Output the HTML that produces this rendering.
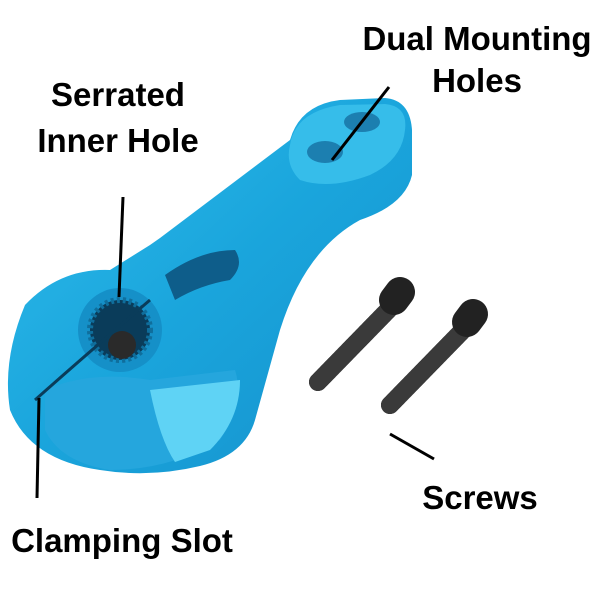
<!DOCTYPE html>
<html><head><style>
html,body{margin:0;padding:0;background:#fff;width:600px;height:600px;overflow:hidden}
svg{display:block}
text{font-family:"Liberation Sans",sans-serif;font-weight:bold;font-size:33px;fill:#000;text-anchor:middle}
</style></head><body>
<svg width="600" height="600" viewBox="0 0 600 600">
<defs>
<linearGradient id="g" x1="0" y1="0" x2="1" y2="1">
<stop offset="0" stop-color="#30bdec"/><stop offset="0.5" stop-color="#1aa5dc"/><stop offset="1" stop-color="#1590cc"/>
</linearGradient>
</defs>
<path d="M150 245 L160 238 L290 140 Q300 105 340 100 L385 98 Q410 100 412 130 L412 175 Q405 205 360 220 Q305 250 280 330 L255 420 Q245 455 200 466 Q150 478 100 470 Q30 460 10 410 Q2 360 25 305 Q60 268 110 270 Z" fill="url(#g)"/>
<path d="M290 145 Q295 112 340 105 L385 104 Q408 106 405 130 Q402 160 370 175 Q330 190 300 180 Q285 165 290 145 Z" fill="#36bdea"/>
<ellipse cx="325" cy="152" rx="18" ry="11" fill="#1c7fb0"/>
<ellipse cx="362" cy="122" rx="18" ry="10" fill="#1c7fb0"/>
<path d="M45 390 Q90 370 150 380 L235 370 Q245 400 220 440 Q170 470 110 470 Q60 462 45 430 Z" fill="#25a6dd"/>
<path d="M150 390 Q160 440 175 462 L210 450 Q240 420 240 380 Z" fill="#5fd3f5"/>
<path d="M165 275 Q200 250 235 250 Q245 265 230 280 Q200 285 175 300 Z" fill="#0e5d8a"/>
<circle cx="120" cy="330" r="42" fill="#1590c8"/>
<circle cx="120" cy="330" r="30" fill="#0a3c5a" stroke="#0f6e9c" stroke-width="6" stroke-dasharray="3 3"/>
<circle cx="122" cy="345" r="14" fill="#2a2a2a"/>
<path d="M35 400 Q80 360 150 300" stroke="#0a3c5a" stroke-width="3" fill="none"/>
<g stroke-linecap="round">
<line x1="395" y1="303" x2="318" y2="382" stroke="#1a1a1a" stroke-width="18"/>
<line x1="395" y1="303" x2="318" y2="382" stroke="#3a3a3a" stroke-width="18" stroke-dasharray="2 3"/>
<line x1="400" y1="292" x2="394" y2="300" stroke="#222" stroke-width="30"/>
<line x1="468" y1="325" x2="390" y2="405" stroke="#1a1a1a" stroke-width="18"/>
<line x1="468" y1="325" x2="390" y2="405" stroke="#3a3a3a" stroke-width="18" stroke-dasharray="2 3"/>
<line x1="473" y1="314" x2="467" y2="322" stroke="#222" stroke-width="30"/>
</g>
<g stroke="#000" stroke-width="3">
<line x1="389" y1="87" x2="332" y2="160"/>
<line x1="123" y1="197" x2="119" y2="297"/>
<line x1="39" y1="398" x2="37" y2="498"/>
<line x1="390" y1="434" x2="434" y2="459"/>
</g>
<text x="477" y="50">Dual Mounting</text>
<text x="477" y="92">Holes</text>
<text x="118" y="106">Serrated</text>
<text x="118" y="152">Inner Hole</text>
<text x="480" y="509">Screws</text>
<text x="122" y="552">Clamping Slot</text>
</svg>
</body></html>
